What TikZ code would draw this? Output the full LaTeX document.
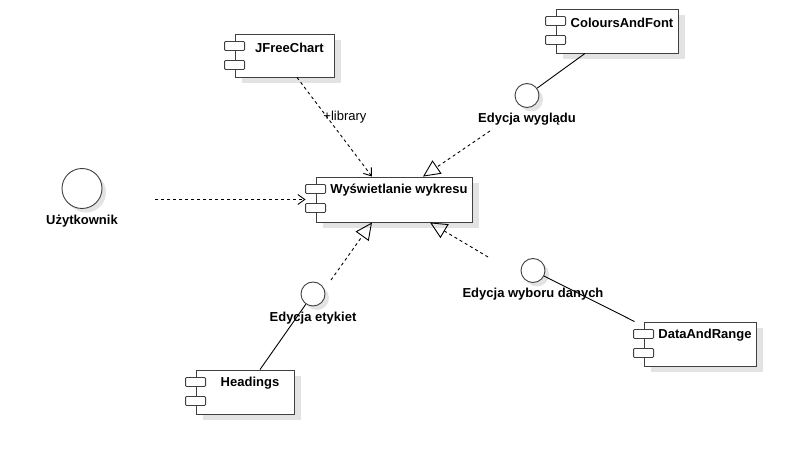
\documentclass[tikz,border=0pt]{standalone}
\usepackage{fontspec}
\setmainfont{Liberation Sans}
\usetikzlibrary{positioning,arrows.meta,shadows}

\tikzset{
  comp/.style={draw=black!75, fill=white, line width=0.9pt, inner sep=0pt,
    drop shadow={shadow xshift=7pt, shadow yshift=-6pt, fill=black!11, opacity=1}},
  tab/.style={draw=black!75, fill=white, line width=0.9pt, rounded corners=1pt},
  ctitle/.style={inner sep=0pt, font=\fontsize{13}{15}\selectfont\bfseries},
  iface/.style={circle, draw=black!75, fill=white, line width=0.9pt, inner sep=0pt,
    minimum size=24pt,
    drop shadow={shadow xshift=4pt, shadow yshift=-4pt, fill=black!11, opacity=1}},
  lbl/.style={inner sep=0pt, font=\fontsize{13}{15}\selectfont\bfseries},
  dep/.style={dash pattern=on 3pt off 3pt, line width=0.9pt,
    -{Straight Barb[length=7pt,width=10pt]}},
  real/.style={dash pattern=on 3pt off 3pt, line width=0.9pt,
    -{Triangle[open,length=17pt,width=16pt]}},
  wire/.style={line width=0.9pt}
}

\begin{document}
\begin{tikzpicture}[x=1pt, y=-1pt]
    \useasboundingbox (0,0) rectangle (796,454);

    % components
    \node[comp, minimum width=99pt, minimum height=43pt] (jfc) at (284.5,55.5) {};
    \node[comp, minimum width=156pt, minimum height=45pt] (wys) at (394,199.5) {};
    \node[comp, minimum width=122pt, minimum height=44pt] (caf) at (617,31) {};
    \node[comp, minimum width=98pt, minimum height=44pt] (head) at (245,392) {};
    \node[comp, minimum width=112pt, minimum height=44pt] (dar) at (700,344) {};

    % component tabs
    \foreach \c in {jfc, wys, caf, head, dar} {
        \draw[tab] ([xshift=-10pt, yshift=-8pt]\c.north west) rectangle ++(20,9);
        \draw[tab] ([xshift=-10pt, yshift=-27pt]\c.north west) rectangle ++(20,9);
    }

    % component titles
    \node[ctitle] at ([xshift=5pt, yshift=-14pt]jfc.north) {JFreeChart};
    \node[ctitle] at ([xshift=5pt, yshift=-14pt]wys.north) {Wyświetlanie wykresu};
    \node[ctitle] at ([xshift=5pt, yshift=-14pt]caf.north) {ColoursAndFont};
    \node[ctitle] at ([xshift=5pt, yshift=-14pt]head.north) {Headings};
    \node[ctitle] at ([xshift=5pt, yshift=-14pt]dar.north) {DataAndRange};

    % actor and interfaces
    \node[iface, minimum size=40pt] (usr) at (82,188.5) {};
    \node[lbl, below=6pt of usr] (usrlab) {Użytkownik};
    \node[iface] (ewc) at (527,95.5) {};
    \node[lbl, below=5pt of ewc] (ewlab) {Edycja wyglądu};
    \node[iface] (eec) at (313,294) {};
    \node[lbl, below=5pt of eec] (eelab) {Edycja etykiet};
    \node[iface] (ewdc) at (533,270.5) {};
    \node[lbl, below=5pt of ewdc] (ewdlab) {Edycja wyboru danych};

    % free ends of the dashed connectors
    \coordinate (usrout) at (155,199.5);
    \coordinate (ewout) at (490,131);
    \coordinate (eeout) at (331,280);
    \coordinate (ewdout) at (488,257);

    % dependencies
    \draw[dep] (usrout) -- ([xshift=-10pt]wys.west);
    \draw[dep] ([xshift=12.5pt]jfc.south) -- ([xshift=-22pt]wys.north)
        node[pos=0.4, anchor=west, xshift=-4pt, inner sep=0pt,
             font=\fontsize{13}{15}\selectfont] {+library};

    % realizations
    \draw[real] (ewout) -- ([xshift=29pt]wys.north);
    \draw[real] (eeout) -- ([xshift=-22pt]wys.south);
    \draw[real] (ewdout) -- ([xshift=36pt]wys.south);

    % interface wires
    \draw[wire] (ewc) -- ([xshift=-32pt]caf.south);
    \draw[wire] (eec) -- ([xshift=15pt]head.north);
    \draw[wire] (ewdc) -- ([xshift=-9pt]dar.north west);
\end{tikzpicture}
\end{document}
